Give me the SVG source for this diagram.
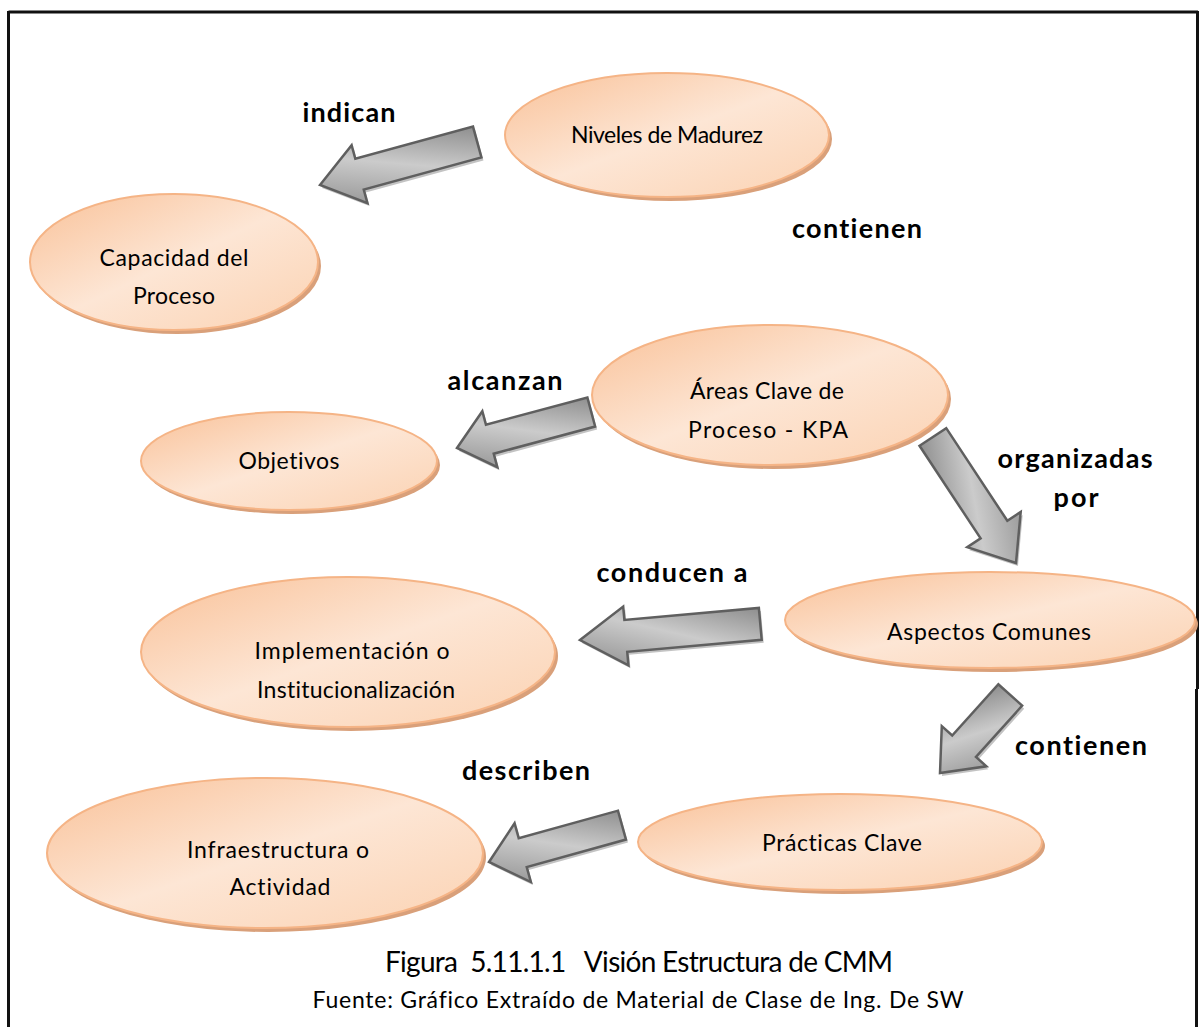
<svg xmlns="http://www.w3.org/2000/svg" xmlns:xlink="http://www.w3.org/1999/xlink" width="1201" height="1027" viewBox="0 0 1201 1027">
  <defs>
    <linearGradient id="peach" x1="0" y1="0" x2="1" y2="1">
      <stop offset="0" stop-color="#f9c198"/>
      <stop offset="0.5" stop-color="#fde6d5"/>
      <stop offset="1" stop-color="#fbd2b2"/>
    </linearGradient>
    <linearGradient id="steel" x1="0" y1="1" x2="1" y2="0">
      <stop offset="0" stop-color="#8c8c8c"/>
      <stop offset="0.5" stop-color="#cbcbcb"/>
      <stop offset="1" stop-color="#7c7c7c"/>
    </linearGradient>
    <style>
      text { font-variant-ligatures: none; font-family: Lato, "Open Sans", "Liberation Sans", sans-serif; fill: #000; text-anchor: middle; }
      .shade { fill: #d9a07a; }
      .bubble { fill: url(#peach); stroke: #f5b486; stroke-width: 2; }
      .ntext { font-size: 23px; }
      .label { font-size: 27px; font-weight: bold; }
      .arrow { fill: url(#steel); stroke: #5f5f5f; stroke-width: 2.5; stroke-linejoin: miter; }
      .ashadow { fill: #b4b4b4; opacity: 0.8; }
      .frame { stroke: #111; stroke-width: 3; fill: none; }
    </style>
  </defs>

  <rect width="1201" height="1027" fill="#fff"/>

  <!-- page frame -->
  <g id="frame">
    <line class="frame" x1="8.5" y1="12" x2="1198" y2="12"/>
    <line class="frame" x1="8.5" y1="11" x2="8.5" y2="1027"/>
    <line class="frame" x1="1197.5" y1="11" x2="1197.5" y2="689"/>
    <line class="frame" x1="1196.5" y1="689" x2="1196.5" y2="1027"/>
  </g>

  <!-- block arrows -->
  <g id="connectors">
    <!-- indican -->
    <g transform="translate(322,188) rotate(-15.3)"><polygon class="ashadow" points="0,0 41,-30 41,-16 163,-16 163,16 41,16 41,30"/></g>
    <g transform="translate(320,185) rotate(-15.3)"><polygon class="arrow" points="0,0 41,-30 41,-16 163,-16 163,16 41,16 41,30"/></g>
    <!-- alcanzan -->
    <g transform="translate(459,451) rotate(-15)"><polygon class="ashadow" points="0,0 34,-29 34,-15 139,-15 139,15 34,15 34,29"/></g>
    <g transform="translate(457,448) rotate(-15)"><polygon class="arrow" points="0,0 34,-29 34,-15 139,-15 139,15 34,15 34,29"/></g>
    <!-- organizadas por -->
    <g transform="translate(1018,566) rotate(-123.4)"><polygon class="ashadow" points="0,0 40,-32 40,-16 151,-16 151,16 40,16 40,32"/></g>
    <g transform="translate(1016,563) rotate(-123.4)"><polygon class="arrow" points="0,0 40,-32 40,-16 151,-16 151,16 40,16 40,32"/></g>
    <!-- conducen a -->
    <g transform="translate(582,643) rotate(-5.1)"><polygon class="ashadow" points="0,0 46,-29.5 46,-16 181,-16 181,16 46,16 46,29.5"/></g>
    <g transform="translate(580,640) rotate(-5.1)"><polygon class="arrow" points="0,0 46,-29.5 46,-16 181,-16 181,16 46,16 46,29.5"/></g>
    <!-- contienen (lower) -->
    <g transform="translate(942,776) rotate(-48)"><polygon class="ashadow" points="0,0 36,-30 36,-16 105,-16 105,16 36,16 36,30"/></g>
    <g transform="translate(940,773) rotate(-48)"><polygon class="arrow" points="0,0 36,-30 36,-16 105,-16 105,16 36,16 36,30"/></g>
    <!-- describen -->
    <g transform="translate(491,865) rotate(-15.5)"><polygon class="ashadow" points="0,0 35,-30.5 35,-15 138,-15 138,15 35,15 35,30.5"/></g>
    <g transform="translate(489,862) rotate(-15.5)"><polygon class="arrow" points="0,0 35,-30.5 35,-15 138,-15 138,15 35,15 35,30.5"/></g>
  </g>

  <!-- concept nodes -->
  <g id="niveles">
    <ellipse class="shade" cx="670" cy="139" rx="162" ry="62"/>
    <ellipse class="bubble" cx="667" cy="135" rx="162" ry="62"/>
    <text class="ntext" x="667" y="143" textLength="192">Niveles de Madurez</text>
  </g>
  <g id="capacidad">
    <ellipse class="shade" cx="177" cy="266" rx="144" ry="68"/>
    <ellipse class="bubble" cx="174" cy="262" rx="144" ry="68"/>
    <text class="ntext" x="174" y="266" textLength="149">Capacidad del</text>
    <text class="ntext" x="174" y="304" textLength="82">Proceso</text>
  </g>
  <g id="kpa">
    <ellipse class="shade" cx="773" cy="399" rx="178" ry="70"/>
    <ellipse class="bubble" cx="770" cy="395" rx="178" ry="70"/>
    <text class="ntext" x="767" y="399" textLength="154">Áreas Clave de</text>
    <text class="ntext" x="768" y="438" textLength="160">Proceso - KPA</text>
  </g>
  <g id="objetivos">
    <ellipse class="shade" cx="292" cy="465" rx="148" ry="49"/>
    <ellipse class="bubble" cx="289" cy="461" rx="148" ry="49"/>
    <text class="ntext" x="289" y="469" textLength="101">Objetivos</text>
  </g>
  <g id="aspectos">
    <ellipse class="shade" cx="993" cy="624" rx="205" ry="48"/>
    <ellipse class="bubble" cx="990" cy="620" rx="205" ry="48"/>
    <text class="ntext" x="989" y="640" textLength="204">Aspectos Comunes</text>
  </g>
  <g id="implementacion">
    <ellipse class="shade" cx="351" cy="656" rx="207" ry="75"/>
    <ellipse class="bubble" cx="348" cy="652" rx="207" ry="75"/>
    <text class="ntext" x="352" y="659" textLength="195">Implementación o</text>
    <text class="ntext" x="356" y="698" textLength="198">Institucionalización</text>
  </g>
  <g id="practicas">
    <ellipse class="shade" cx="843" cy="846" rx="202" ry="48"/>
    <ellipse class="bubble" cx="840" cy="842" rx="202" ry="48"/>
    <text class="ntext" x="842" y="851" textLength="160">Prácticas Clave</text>
  </g>
  <g id="infraestructura">
    <ellipse class="shade" cx="268" cy="857" rx="218" ry="75"/>
    <ellipse class="bubble" cx="265" cy="853" rx="218" ry="75"/>
    <text class="ntext" x="278" y="858" textLength="182">Infraestructura o</text>
    <text class="ntext" x="280" y="895" textLength="101">Actividad</text>
  </g>

  <!-- relation labels -->
  <g id="labels">
    <text class="label" x="349" y="122" textLength="93">indican</text>
    <text class="label" x="857" y="238" textLength="130">contienen</text>
    <text class="label" x="505" y="390" textLength="115">alcanzan</text>
    <text class="label" x="1075" y="468" textLength="155">organizadas</text>
    <text class="label" x="1076" y="507" textLength="45">por</text>
    <text class="label" x="672" y="582" textLength="151">conducen a</text>
    <text class="label" x="1081" y="755" textLength="132">contienen</text>
    <text class="label" x="526" y="780" textLength="128">describen</text>
  </g>

  <!-- caption -->
  <g id="caption">
    <text x="639" y="972" font-size="28" textLength="508" xml:space="preserve">Figura  5.11.1.1   Visión Estructura de CMM</text>
    <text x="638" y="1008" font-size="23" textLength="651">Fuente: Gráfico Extraído de Material de Clase de Ing. De SW</text>
  </g>
</svg>
